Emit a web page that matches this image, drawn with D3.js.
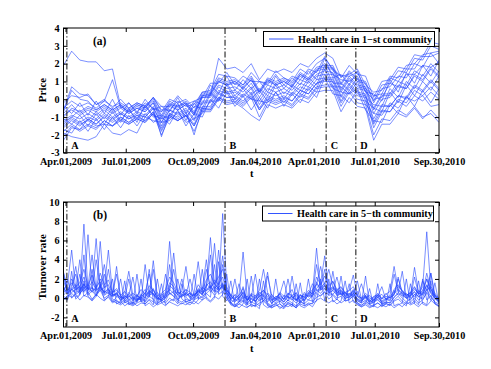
<!DOCTYPE html>
<html><head><meta charset="utf-8">
<script src="https://cdn.jsdelivr.net/npm/d3@7"></script>
<style>
body{margin:0;background:#fff}
svg{display:block}
text{font-family:"Liberation Serif","Times New Roman",serif;font-weight:bold;fill:#000}
</style>
</head><body>
<svg id="c" width="491" height="369"></svg>
<script>
// ---------- data ----------
const xTickDays = [2, 61, 127, 188, 245, 305, 368];
const xTickLabels = ["Apr.01,2009","Jul.01,2009","Oct.09,2009","Jan.04,2010","Apr.01,2010","Jul.01,2010","Sep.30,2010"];
const eventDays = [3.3, 158.3, 257.4, 286.5];
const eventLabels = ["A","B","C","D"];
const priceTicks = [-3,-2,-1,0,1,2,3,4];
const turnoverTicks = [-2,0,2,4,6,8,10];

// price: sampled every 8 trading days (day 0 .. 368)
const priceDays = d3.range(0, 369, 8);
const price1  = [1.9,2.7,2.2,2.1,2.1,1.6,1.7,-0.4,-0.7,-0.3, -0.5,0.1,-0.6,-0.6,-0.1,-0.4,-0.3,0.4,0.5,1.4, 1.3,1.2,0.8,1.5,1.0,0.9,1.6,1.2,1.0,1.7, 1.4,2.0,2.3,1.7,1.3,1.4,1.7,0.8,0.4,0.5, 1.3,1.2,1.9,2.0,2.5,2.6,2.7];
const price2  = [-0.6,0.7,0.3,0.2,-0.3,-0.1,1.1,-0.5,-0.2,-0.7, -0.2,-0.5,-0.7,-0.3,-0.4,-0.2,-0.8,0.2,0.3,1.0, 0.8,1.0,0.6,1.1,0.4,1.1,0.8,1.0,0.7,1.4, 1.1,1.6,2.0,1.4,1.1,1.0,1.3,0.4,0.0,0.1, 0.9,0.7,1.4,1.4,1.9,1.8,2.1];
const price3  = [-1.9,-2.1,-2.2,-2.3,-2.1,-1.4,-1.5,-1.0,-1.3,-0.9, -1.2,-0.7,-1.8,-0.9,-1.2,-0.9,-1.5,-0.5,-0.6,0.1, -0.1,0.0,-0.3,0.2,-0.6,0.0,-0.2,0.0,-0.3,0.3, 0.1,0.7,0.8,0.8,-0.2,0.5,0.0,-0.1,-1.4,-0.6, -0.7,-0.1,-0.4,0.2,-0.1,0.4,0.0];
const price4  = [-1.5,-1.1,-1.4,-1.2,-1.5,-1.4,-1.9,-2.0,-1.7,-1.9, -1.0,-1.2,-1.3,-1.2,-0.7,-1.3,-1.1,-0.8,-0.1,-0.1, 0.5,-0.2,0.3,0.0,-0.1,-0.2,0.4,-0.2,0.4,0.1, 0.7,0.4,1.4,0.6,0.4,0.3,0.6,-0.3,-0.8,-0.9, -0.2,-0.5,0.1,-0.1,0.2,-0.4,-0.3];
const price5  = [-2.3,-1.6,-1.7,-1.1,-1.4,-0.9,-1.2,-0.8,-1.1,-0.9, -1.0,-0.5,-2.1,-0.8,-1.0,-0.7,-2.0,-0.5,-0.5,0.3, 0.1,0.1,-0.2,0.3,-0.6,0.1,-0.1,0.1,-0.1,0.5, 0.3,0.9,1.1,1.1,0.1,0.8,0.3,0.2,-1.1,-0.3, -0.4,0.2,0.0,0.7,0.4,1.0,0.5];
const price6  = [-0.2,0.2,0.1,0.3,-0.3,0.0,-0.5,0.0,-0.5,-0.2, -0.4,0.1,-0.4,-0.4,0.2,-0.3,-0.1,0.1,0.9,0.9, 1.5,0.8,1.3,1.0,1.0,0.8,1.4,0.8,1.3,1.1, 1.7,1.5,2.4,1.6,1.3,1.3,1.5,0.6,0.2,0.3, 1.2,1.0,1.7,1.7,2.4,2.4,2.6];
const price7  = [-1.2,-0.9,-1.1,-0.8,-1.1,-0.6,-1.0,-0.7,-1.0,-0.7, -0.9,-0.4,-1.5,-0.6,-0.8,-0.5,-1.1,-0.1,-0.1,0.7, 0.4,0.5,0.2,0.7,-0.1,0.6,0.4,0.6,0.3,0.9, 0.7,1.3,1.4,1.4,0.4,1.1,0.6,0.5,-0.8,0.0, 0.1,0.7,0.6,1.3,1.0,1.7,1.2];
const price8  = [-0.8,-0.3,-0.8,-0.5,-0.7,-0.4,-0.7,-0.4,-0.7,-0.4, -0.6,-0.1,-1.0,-0.2,-0.5,-0.2,-0.8,0.2,0.2,1.0, 0.8,0.9,0.6,1.1,0.3,1.0,0.8,1.0,0.7,1.3, 1.0,1.6,1.7,1.7,0.6,1.3,0.8,0.7,-0.5,0.3, 0.3,1.0,0.8,1.6,1.3,2.0,1.5];
const price9  = [-1.6,-1.2,-1.5,-1.1,-1.4,-1.0,-1.3,-1.0,-1.3,-1.0, -1.2,-0.7,-1.6,-0.8,-1.1,-0.8,-1.4,-0.4,-0.4,0.4, 0.1,0.2,-0.1,0.4,-0.5,0.2,0.0,0.2,-0.1,0.5, 0.3,0.9,1.0,1.0,-0.1,0.7,0.2,0.1,-1.6,-0.7, -0.7,0.0,-0.2,0.5,0.2,0.7,0.2];
const price10 = [-1.0,-0.5,-0.7,-0.4,-0.6,-0.3,-0.6,-0.3,-0.6,-0.3, -0.5,0.0,-0.9,-0.1,-0.4,-0.1,-0.7,0.3,0.3,1.1, 0.9,1.0,0.7,1.2,0.4,1.1,0.9,1.1,0.8,1.4, 1.1,1.7,1.8,1.8,0.8,1.5,1.0,0.9,-0.2,0.6, 0.7,1.3,1.2,2.0,1.8,2.6,2.0];
const price11 = [-1.4,-1.0,-1.3,-1.0,-1.2,-0.8,-1.1,-0.8,-1.1,-0.8, -1.0,-0.5,-1.3,-0.6,-0.9,-0.6,-1.2,-0.2,-0.2,0.5, 0.3,0.4,0.1,0.6,-0.3,0.4,0.2,0.4,0.2,0.7, 0.5,1.1,1.2,1.2,0.2,0.9,0.4,0.3,-1.3,-0.4, -0.4,0.2,0.1,0.8,0.5,1.1,0.6];
const price12 = [-0.5,-0.1,-0.4,-0.2,-0.5,-0.1,-0.4,-0.2,-0.5,-0.2, -0.4,0.1,-0.7,0.0,-0.2,0.0,-0.5,0.4,0.4,1.2, 1.0,1.1,0.8,1.3,0.5,1.2,1.0,1.2,0.9,1.5, 1.2,1.8,1.9,1.9,0.9,1.6,1.1,1.0,-0.1,0.8, 0.9,1.6,1.5,2.3,2.2,3.0,2.8];
const price13 = [-1.8,-1.4,-1.7,-1.4,-1.6,-1.2,-1.5,-1.1,-1.4,-1.1, -1.3,-0.8,-1.7,-0.9,-1.2,-0.9,-1.5,-0.6,-0.6,0.1, -0.2,-0.1,-0.4,0.1,-1.0,-0.1,-0.3,-0.1,-0.4,0.2, 0.0,0.6,0.7,0.7,-0.4,0.4,-0.2,-0.3,-2.0,-1.1, -1.2,-0.6,-0.9,-0.4,-1.0,-0.8,-1.3];
const price14 = [-0.9,-0.6,-0.9,-0.6,-0.9,-0.5,-0.8,-0.5,-0.8,-0.5, -0.7,-0.2,-1.1,-0.3,-0.6,-0.3,-0.9,0.1,0.1,0.8, 0.6,0.7,0.4,0.9,0.1,0.8,0.6,0.8,0.5,1.1, 0.9,1.4,1.6,1.5,0.5,1.2,0.7,0.6,-0.6,0.2, 0.2,0.8,0.6,1.4,1.1,1.8,1.3];
const price15 = [-2.1,-1.5,-1.8,-1.5,-1.7,-1.2,-1.5,-1.2,-1.4,-1.1, -1.3,-0.8,-2.0,-1.0,-1.2,-0.9,-1.8,-0.7,-0.7,0.0, -0.3,-0.2,-0.5,-0.9,-1.2,-0.3,-0.5,-0.3,-0.5,0.0, -0.2,0.4,0.5,0.5,-0.7,0.1,-0.4,-0.5,-2.3,-1.4, -1.4,-0.8,-1.0,-0.5,-1.1,-0.6,-1.1];
const price16 = [-0.7,0.5,0.0,-0.1,-0.6,-0.3,-0.6,-0.3,-0.8,-0.5, -0.7,-0.2,-1.3,-0.4,-0.6,-0.3,-0.9,0.1,0.2,2.3, 1.7,1.8,1.5,2.0,1.1,1.7,1.5,1.7,1.5,2.0, 1.8,2.3,2.6,2.3,1.2,1.9,1.4,1.3,0.1,1.0, 1.1,1.8,1.7,2.5,2.4,3.2,3.1];
const price17 = [-1.3,-1.0,-0.6,-1.2,-0.7,-1.1,-0.5,-1.2,-0.6,-1.1, -0.4,-0.9,-1.1,-0.9,-0.3,-1.0,-0.4,-0.5,0.4,0.0, 0.9,0.2,0.7,0.3,0.6,0.2,0.9,0.3,0.8,0.5, 1.2,0.8,1.9,0.9,0.9,0.5,1.2,0.1,-0.3,-0.4, 0.6,0.1,1.0,0.6,1.4,0.9,1.6];
const price18 = [-0.4,-0.8,-0.2,-0.9,-0.1,-0.8,0.0,-0.9,-0.2,-0.8, 0.0,-0.6,-0.4,-0.7,0.1,-0.8,-0.1,-0.3,0.8,0.3, 1.3,0.5,1.1,0.6,1.0,0.4,1.3,0.6,1.2,0.8, 1.6,1.1,2.3,1.2,1.4,0.8,1.6,0.4,0.3,-0.1, 1.1,0.4,1.5,0.9,1.9,1.3,2.2];
const price19 = [-1.7,-1.9,-1.2,-1.8,-1.1,-1.7,-1.0,-1.6,-0.9,-1.5, -0.8,-1.3,-1.0,-1.4,-0.6,-1.5,-0.8,-1.0,0.0,-0.5, 0.4,-0.4,0.2,-0.6,0.1,-0.5,0.4,-0.4,0.3,-0.2, 0.6,0.1,1.2,0.3,0.2,-0.2,0.5,-0.6,-1.2,-1.3, -0.3,-0.8,0.2,-0.4,0.5,-0.2,0.6];
const price20 = [-1.1,-1.4,-0.9,-1.5,-0.8,-1.4,-0.7,-1.3,-0.5,-1.3, -0.3,-1.0,-0.9,-1.1,-0.2,-1.2,-0.2,-0.7,0.3,-0.1, 0.8,0.0,0.6,0.0,0.5,-0.1,0.8,0.0,0.7,0.3, 1.0,0.6,1.7,0.7,0.7,0.3,1.0,-0.1,-0.5,-0.7, 0.4,-0.2,0.8,0.2,1.0,0.5,1.3];

// turnover rate: sampled every 4 trading days (day 0 .. 368)
const turnDays = d3.range(0, 369, 4);
const turn1  = [1.2,0.4,0.9,0.6,0.8,7.7,0.9,1.1,0.7,1.3, 0.6,1.0,0.3,0.5,-0.2,0.1,0.4,-0.3,0.2,0.0, 0.6,0.2,0.9,-0.1,0.3,0.6,5.9,0.8,0.4,0.7, 0.3,0.5,0.2,0.9,0.6,1.2,6.3,1.4,1.0,8.8, 1.2,0.2,-0.3,0.1,0.5,-0.2,0.4,-0.4,0.3,0.8, 0.1,-0.3,0.2,0.0,-0.4,0.3,0.9,-0.2,0.1,0.4, 0.2,0.6,5.2,0.9,1.3,0.7,1.0,0.4,0.6,0.2, 0.0,0.5,-0.1,-0.4,0.2,-0.2,-0.5,0.1,-0.3,0.0, -0.2,0.8,0.3,0.6,0.1,0.4,0.9,0.5,1.2,6.9, 1.0,0.3,-0.2];
const turn2  = [0.8,1.5,5.0,0.9,1.2,0.6,6.6,1.0,0.8,5.9, 0.7,0.5,0.2,0.6,0.0,-0.4,0.2,-0.1,0.4,-0.3, 0.2,0.7,0.4,0.0,-0.2,0.5,0.9,4.7,0.6,0.3, 0.9,0.1,0.4,0.6,1.1,0.8,1.0,5.7,0.9,1.4, 0.6,-0.1,0.3,-0.2,0.7,0.0,-0.4,0.1,0.6,0.2, -0.2,0.4,-0.1,0.6,0.2,-0.3,0.3,0.5,0.0,0.2, 0.8,0.4,1.0,1.6,4.4,0.8,1.1,0.6,0.9,0.3, 0.5,0.2,0.7,-0.2,0.1,-0.4,0.2,0.3,-0.1,0.4, 0.7,3.3,0.9,0.5,0.2,0.6,0.1,0.8,0.4,1.3, 0.7,0.2,-0.1];
const turn3  = [2.6,0.5,1.0,1.4,0.7,1.8,0.9,1.3,6.2,0.8, 1.1,5.0,0.6,1.0,0.3,-0.2,0.6,0.1,-0.4,0.3, 0.9,0.4,3.9,0.2,-0.3,0.1,0.5,0.2,-0.2,0.4, 0.1,-0.3,0.6,3.8,0.5,0.9,1.3,0.7,5.0,1.0, 0.8,0.4,0.0,0.3,4.8,0.2,-0.5,0.0,0.4,-0.3, 0.5,-0.6,0.0,-0.4,0.3,0.1,-0.2,0.6,-0.4,-0.1, 0.3,0.9,1.4,3.3,1.2,0.6,0.4,0.9,0.3,0.6, 0.1,0.9,0.2,-0.3,0.3,-0.6,-0.1,0.3,-0.5,-0.2, 0.2,0.6,1.2,0.8,0.4,0.2,3.2,0.6,0.3,0.9, 2.6,0.4,-0.4];
const turn4  = [0.3,0.8,1.1,3.3,0.5,1.0,1.4,0.6,1.2,1.7, 0.4,0.8,0.2,3.3,0.0,0.6,2.8,0.3,-0.2,0.1, -0.3,0.5,1.0,-0.1,0.4,0.0,1.3,0.9,0.3,0.8, 3.3,0.4,0.2,0.8,0.3,1.5,1.0,1.9,1.4,4.4, 0.9,-0.2,0.4,0.0,1.2,-0.3,0.5,0.2,0.8,3.0, 0.6,0.0,-0.3,0.2,-0.1,0.5,0.1,-0.2,0.4,-0.3, 0.5,0.2,1.7,0.8,1.3,0.9,1.8,0.5,0.7,0.4, 0.8,2.4,0.3,0.0,0.5,0.1,-0.3,0.4,0.0,0.5, 0.0,0.4,2.0,0.7,0.3,0.5,1.1,0.4,0.6,2.6, 0.9,0.1,-0.3];
const turn5  = [1.8,0.6,0.9,1.2,0.4,1.5,0.7,3.0,0.5,1.0, 2.5,0.6,0.1,0.5,-0.3,0.2,0.0,-0.5,0.0,-0.2, 3.5,0.3,0.5,-0.4,0.0,2.5,0.4,0.7,-0.1,0.2, 0.6,0.0,-0.2,0.5,0.9,4.0,0.6,1.2,0.8,1.3, 0.4,-0.5,-0.1,-0.4,0.2,-0.6,0.0,-0.3,0.2,0.5, 2.7,-0.2,-0.5,0.0,-0.6,-0.2,2.3,-0.1,-0.5,0.1, -0.2,0.3,0.6,0.9,1.0,0.3,2.8,0.2,0.5,-0.1, 0.3,0.6,-0.2,-0.5,2.3,-0.6,-0.3,-0.1,-0.6,-0.4, -0.5,0.1,0.5,2.8,0.0,-0.2,0.4,0.2,-0.1,0.5, 2.6,0.0,-0.5];
const turn6  = [-0.2,0.3,0.1,0.5,2.5,0.2,0.6,-0.1,0.4,0.8, 0.0,0.3,-0.4,0.1,2.0,-0.5,-0.2,-0.6,2.5,-0.4, -0.1,3.0,-0.3,-0.6,-0.2,-0.5,0.0,-0.3,2.0,-0.1, -0.4,-0.2,2.5,-0.1,0.2,0.5,0.1,3.5,0.4,0.7, 0.0,-0.6,-0.8,-0.4,-0.2,-0.7,2.3,-0.5,-0.8,-0.2, -0.6,-0.9,2.0,-0.6,-1.0,-0.4,-0.7,-1.0,-0.3,-0.6, 2.0,-0.4,0.1,0.3,0.6,-0.1,0.3,-0.2,2.3,-0.3, -0.1,0.2,-0.5,-0.8,-0.3,-0.7,-0.9,1.5,-0.7,-0.5, -0.8,-0.3,-0.1,-0.5,2.0,-0.6,-0.3,-0.7,2.0,-0.2, 0.3,-0.5,-0.8];
const turn7  = [0.5,2.0,0.0,0.4,-0.2,0.3,0.1,-0.3,0.2,1.5, -0.2,0.1,-0.5,-0.2,-0.6,1.8,-0.7,-0.4,-0.8,-0.5, -0.6,-0.2,-0.7,2.0,-0.5,-0.8,-0.3,-0.1,-0.6,1.5, -0.5,-0.7,-0.3,-0.6,-0.2,0.1,-0.3,0.2,-0.1,0.4, 2.5,-0.5,-0.9,-0.6,-0.8,-1.0,-0.6,-0.9,2.0,-0.7, -1.0,-0.8,-0.5,-1.1,-0.7,-0.9,-0.6,-1.0,1.6,-0.8, -0.6,-0.9,-0.2,0.0,-0.3,2.0,-0.4,-0.1,-0.5,-0.2, 1.5,-0.4,-0.6,-0.9,-0.7,-1.0,-0.8,-0.5,-0.9,-0.6, 1.5,-0.8,-0.6,-0.9,-0.4,-0.7,-0.5,1.8,-0.6,-0.8, -0.3,1.6,-0.6];
const turn8  = [2.7,1.0,0.6,0.9,4.0,0.7,1.2,4.5,0.9,1.1, 0.5,3.0,0.3,0.4,0.1,-0.1,0.3,2.2,-0.2,0.2, 0.5,2.5,0.2,0.6,-0.1,0.2,3.5,0.5,0.1,0.3, 0.4,2.0,0.3,0.7,0.4,1.0,4.5,0.8,0.6,1.5, 0.5,0.0,2.0,-0.3,0.3,-0.2,0.1,2.5,-0.1,0.3, -0.4,0.2,-0.2,0.4,1.8,0.0,0.2,-0.3,0.3,0.1, 0.4,1.5,0.8,1.0,3.0,0.5,0.8,2.2,0.4,0.6, 0.2,0.4,1.8,-0.1,0.2,-0.3,0.0,0.2,1.2,-0.2, 0.1,0.3,2.2,0.4,0.0,0.3,0.6,0.2,0.5,2.0, 0.6,0.0,-0.4];
const turn9  = [0.0,-0.2,2.8,-0.1,0.3,4.5,0.2,-0.2,0.4,0.0, -0.3,0.2,2.0,-0.6,-0.3,-0.8,-0.5,-0.7,-0.4,2.0, -0.8,-0.5,-0.9,-0.6,1.5,-0.7,-0.4,-0.6,-0.8,-0.5, -0.7,-0.4,-0.6,-0.2,3.0,-0.1,-0.4,0.0,3.8,0.2, -0.3,1.8,-0.7,-1.0,-0.6,2.0,-0.9,-0.7,-1.1,1.8, -0.8,-1.0,-0.7,-0.9,-1.1,-0.6,-0.9,1.5,-0.8,-1.0, -0.7,-0.5,-0.3,2.0,-0.2,-0.5,-0.2,-0.6,-0.3,1.8, -0.5,-0.2,-0.7,-0.9,-0.6,1.0,-0.8,-1.0,-0.7,-0.9, -0.6,-1.0,-0.7,-0.5,-0.8,1.5,-0.6,-0.9,-0.4,-0.7, 1.8,-0.6,-0.9];
const turn10 = [2.2,0.8,1.3,2.5,0.9,1.4,1.0,0.7,4.0,1.2, 3.5,0.9,0.4,2.5,0.2,0.0,2.0,-0.2,0.3,-0.1, 0.4,0.1,3.0,0.0,-0.2,0.3,0.8,3.0,0.5,2.0, 0.2,0.5,0.0,1.0,0.6,3.0,1.1,1.6,0.9,3.5, 0.8,0.3,-0.2,1.5,0.0,0.2,-0.1,0.3,-0.3,0.1, 2.3,0.3,-0.1,0.5,-0.2,2.0,0.0,0.3,-0.3,0.6, 0.1,0.4,3.5,1.1,1.5,3.0,1.2,0.8,1.1,0.5, 0.4,0.7,0.3,1.5,0.0,0.3,-0.2,0.1,0.4,-0.1, 0.3,2.5,0.6,0.2,0.5,0.0,2.2,0.4,1.8,0.8, 1.2,0.5,0.0];
const turn11 = [0.6,0.9,1.6,0.8,1.2,2.2,1.0,1.7,0.9,2.0, 1.1,1.4,0.4,0.2,-0.1,0.3,-0.2,0.1,-0.3,0.4, 0.0,0.8,0.5,-0.2,0.1,0.4,1.6,1.2,0.3,0.1, 0.5,0.2,-0.1,0.8,0.4,1.3,1.7,1.0,1.5,2.2, 0.6,-0.2,-0.4,0.0,0.6,-0.5,-0.1,-0.3,0.2,0.4, 0.0,-0.5,-0.2,0.1,-0.4,0.2,-0.1,-0.5,0.0,-0.2, 0.3,0.1,1.5,1.0,1.6,0.9,1.2,0.6,0.8,0.2, 0.4,0.8,-0.1,-0.3,0.0,-0.4,-0.2,0.1,-0.4,-0.1, -0.3,0.5,0.9,0.3,0.0,0.2,0.7,0.1,0.4,1.4, 0.5,0.0,-0.3];
const turn12 = [-0.1,0.2,0.5,0.1,0.4,1.2,0.3,0.8,0.2,0.9, 0.3,0.6,-0.3,-0.5,-0.7,-0.4,-0.6,-0.8,-0.5,-0.3, -0.6,-0.1,-0.4,-0.7,-0.5,-0.3,0.6,0.2,-0.4,-0.6, -0.3,-0.5,-0.2,0.1,-0.2,0.5,0.9,0.3,0.8,1.2, 0.0,-0.7,-0.9,-0.6,-0.3,-0.9,-0.7,-0.8,-0.5,-0.3, -0.7,-1.0,-0.8,-0.6,-0.9,-0.5,-0.7,-1.0,-0.6,-0.8, -0.5,-0.6,0.5,0.2,0.7,0.3,0.4,0.0,0.2,-0.3, -0.2,0.3,-0.5,-0.7,-0.5,-0.9,-0.7,-0.5,-0.8,-0.6, -0.7,-0.2,0.2,-0.3,-0.6,-0.4,0.0,-0.5,-0.2,0.6, -0.2,-0.6,-0.8];
const turn13 = [1.0,0.5,2.0,1.2,1.6,3.0,1.3,2.4,1.1,2.6, 1.4,1.9,0.6,0.8,0.3,0.7,0.1,0.5,0.2,0.9, 0.4,1.3,0.8,0.2,0.5,0.9,2.2,1.6,0.6,0.5, 0.9,0.6,0.3,1.4,0.8,1.9,2.5,1.5,2.2,3.0, 0.9,0.2,-0.1,0.3,1.0,-0.2,0.3,0.0,0.5,0.8, 0.4,-0.2,0.1,0.4,-0.1,0.5,0.3,-0.2,0.3,0.1, 0.6,0.5,2.2,1.4,2.3,1.3,1.7,0.9,1.2,0.6, 0.8,1.2,0.2,0.0,0.3,-0.1,0.1,0.5,-0.1,0.2, 0.0,0.9,1.4,0.7,0.3,0.6,1.2,0.4,0.8,2.0, 0.9,0.3,-0.1];
const turn14 = [0.2,-0.1,1.0,0.4,0.7,1.5,0.5,1.1,0.3,1.2, 0.6,0.9,-0.1,-0.3,-0.5,-0.2,-0.4,-0.6,-0.2,-0.1, -0.4,0.2,-0.1,-0.5,-0.3,0.0,0.9,0.5,-0.2,-0.4, -0.1,-0.3,0.1,0.4,0.0,0.8,1.2,0.6,1.1,1.6, 0.3,-0.5,-0.7,-0.4,0.0,-0.7,-0.4,-0.6,-0.2,0.0, -0.5,-0.8,-0.6,-0.3,-0.7,-0.2,-0.5,-0.8,-0.4,-0.6, -0.2,-0.3,0.9,0.5,1.0,0.6,0.8,0.3,0.5,0.0, 0.1,0.5,-0.3,-0.5,-0.2,-0.7,-0.4,-0.2,-0.6,-0.4, -0.5,0.1,0.5,0.0,-0.4,-0.1,0.4,-0.2,0.1,0.9, 0.1,-0.4,-0.6];

const priceSeries = [price1,price2,price3,price4,price5,price6,price7,price8,price9,price10,price11,price12,price13,price14,price15,price16,price17,price18,price19,price20];
const turnSeries = [turn1,turn2,turn3,turn4,turn5,turn6,turn7,turn8,turn9,turn10,turn11,turn12,turn13,turn14];

// ---------- drawing ----------
const svg = d3.select("#c");
const L = 63.5, R = 439;
const FONT = '"Liberation Serif","Times New Roman",serif';

function panel(cfg){
  const x = d3.scaleLinear().domain([0, 368]).range([L, R]);
  const y = d3.scaleLinear().domain(cfg.yDomain).range([cfg.bottom, cfg.top]);
  const g = svg.append("g");
  const clipId = "clip" + cfg.id;
  g.append("clipPath").attr("id", clipId).append("rect")
    .attr("x", L).attr("y", cfg.top).attr("width", R - L).attr("height", cfg.bottom - cfg.top);

  const line = d3.line().x((d, i) => x(cfg.days[i])).y(d => y(d));
  const lg = g.append("g").attr("clip-path", `url(#${clipId})`);
  cfg.series.forEach(s => {
    lg.append("path").attr("d", line(s)).attr("fill", "none")
      .attr("stroke", "#2244ff").attr("stroke-width", cfg.sw).attr("stroke-opacity", 0.85)
      .attr("stroke-linejoin", "round");
  });

  // event lines
  eventDays.forEach((d, i) => {
    g.append("line").attr("x1", x(d)).attr("x2", x(d)).attr("y1", cfg.top).attr("y2", cfg.bottom)
      .attr("stroke", "#222").attr("stroke-width", 1.1).attr("stroke-dasharray", "6,2.2,1.4,2.2");
    g.append("text").attr("x", x(d) + 4.5).attr("y", cfg.evY).attr("font-size", 10.2).text(eventLabels[i]);
  });

  // axes
  const fmt = (d) => xTickLabels[xTickDays.indexOf(d)];
  const ab = g.append("g").attr("transform", `translate(0,${cfg.bottom})`)
    .call(d3.axisBottom(x).tickValues(xTickDays).tickFormat(fmt).tickSizeInner(-4).tickSizeOuter(0).tickPadding(5.2));
  const at = g.append("g").attr("transform", `translate(0,${cfg.top})`)
    .call(d3.axisTop(x).tickValues(xTickDays).tickFormat("").tickSizeInner(-4).tickSizeOuter(0));
  const al = g.append("g").attr("transform", `translate(${L},0)`)
    .call(d3.axisLeft(y).tickValues(cfg.yTicks).tickFormat(d3.format("d")).tickSizeInner(-4).tickSizeOuter(0).tickPadding(4));
  const ar = g.append("g").attr("transform", `translate(${R},0)`)
    .call(d3.axisRight(y).tickValues(cfg.yTicks).tickFormat("").tickSizeInner(-4).tickSizeOuter(0));
  [ab, at, al, ar].forEach(a => {
    a.select(".domain").remove();
    a.attr("font-family", FONT).attr("font-size", 10.2).attr("font-weight", "bold");
    a.selectAll("line").attr("stroke", "#000");
  });
  al.selectAll("text").text(d => d < 0 ? "-" + Math.abs(d) : d);

  // frame
  g.append("rect").attr("x", L).attr("y", cfg.top).attr("width", R - L).attr("height", cfg.bottom - cfg.top)
    .attr("fill", "none").attr("stroke", "#000").attr("stroke-width", 1);

  // legend
  const lb = cfg.legend;
  g.append("rect").attr("x", lb.x).attr("y", lb.y).attr("width", lb.w).attr("height", lb.h)
    .attr("fill", "#fff").attr("stroke", "#000").attr("stroke-width", 1);
  g.append("line").attr("x1", lb.x + 5.5).attr("x2", lb.x + 30).attr("y1", lb.y + 7.5).attr("y2", lb.y + 7.5)
    .attr("stroke", "#3355ff").attr("stroke-width", 1);
  g.append("text").attr("x", lb.x + 34.5).attr("y", lb.y + 11.3).attr("font-size", 10.2).text(lb.text);

  // tag
  g.append("text").attr("x", 93).attr("y", cfg.top + 17).attr("font-size", 11.5).text(cfg.tag);

  // axis titles
  g.append("text").attr("x", (L + R) / 2 + 0.5).attr("y", cfg.bottom + 24.5).attr("text-anchor", "middle")
    .attr("font-size", 10.5).text("t");
  g.append("text").attr("transform", `translate(45.5,${cfg.ylabY}) rotate(-90)`).attr("text-anchor", "middle")
    .attr("font-size", 11).text(cfg.ylabel);
}

panel({
  id: "a", tag: "(a)", top: 28, bottom: 152.7, yDomain: [-3, 4], yTicks: priceTicks,
  days: priceDays, series: priceSeries, sw: 0.7, evY: 149,
  ylabel: "Price", ylabY: 90,
  legend: {x: 263.5, y: 31.5, w: 171, h: 15, text: "Health care in 1\u2212st community"}
});
panel({
  id: "b", tag: "(b)", top: 202, bottom: 327, yDomain: [-3, 10], yTicks: turnoverTicks,
  days: turnDays, series: turnSeries, sw: 0.7, evY: 322,
  ylabel: "Turnover rate", ylabY: 267,
  legend: {x: 262.5, y: 206, w: 171, h: 15, text: "Health care in 5\u2212th community"}
});
</script>
</body></html>
